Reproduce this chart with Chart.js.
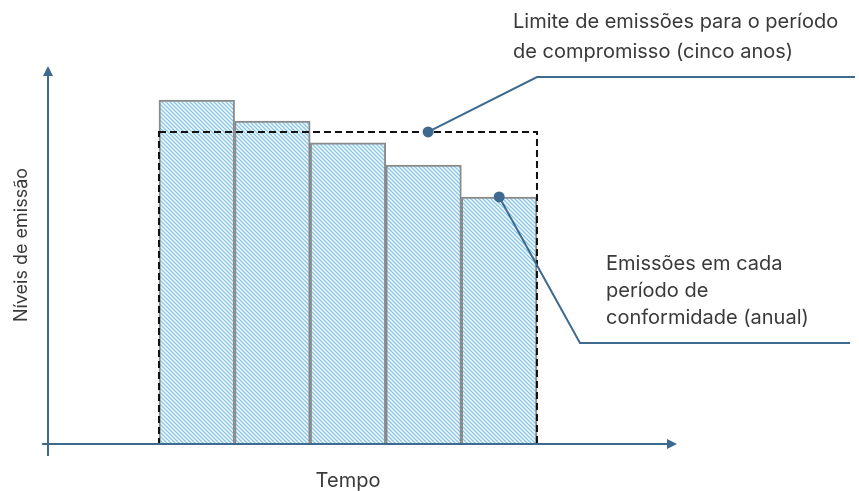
<!DOCTYPE html>
<html>
<head>
<meta charset="utf-8">
<script src="https://cdn.jsdelivr.net/npm/chart.js@4"></script>
<style>
  html, body { margin: 0; padding: 0; background: #fff; }
  #wrap { width: 859px; height: 491px; }
</style>
</head>
<body>
<div id="wrap"><canvas id="emissionsChart" width="859" height="491"></canvas></div>
<script>
// Data (relative emission levels, 0-100)
const periods = [1, 2, 3, 4, 5];
const annualEmissions = [91.5, 85.9, 80.1, 74.2, 65.7];
const commitmentLimit = 83.0;
const limitLabel = ["Limite de emissões para o período", "de compromisso (cinco anos)"];
const annualLabel = ["Emissões em cada", "período de", "conformidade (anual)"];
const xTitle = "Tempo";
const yTitle = "Níveis de emissão";

const axisColor = "#3d6a8e";
const textColor = "#3a3a3a";
const fontFamily = "Inter, 'Open Sans', sans-serif";

// Hatch fill for the bars
function makeHatch() {
    const c = document.createElement("canvas");
    c.width = 4; c.height = 4;
    const g = c.getContext("2d");
    g.fillStyle = "#ffffff";
    g.fillRect(0, 0, 4, 4);
    g.strokeStyle = "#7fc6e8";
    g.lineWidth = 1.3;
    g.beginPath();
    g.moveTo(-1, -1); g.lineTo(5, 5);
    g.moveTo(-1, 3); g.lineTo(1, 5);
    g.moveTo(3, -1); g.lineTo(5, 1);
    g.stroke();
    return g.createPattern(c, "repeat");
}

function arrowHead(ctx, x, y, dir) {
    ctx.beginPath();
    if (dir === "up") {
        ctx.moveTo(x, y); ctx.lineTo(x - 5, y + 10); ctx.lineTo(x + 5, y + 10);
    } else {
        ctx.moveTo(x, y); ctx.lineTo(x - 10, y - 5); ctx.lineTo(x - 10, y + 5);
    }
    ctx.closePath();
    ctx.fill();
}

const overlay = {
    id: "overlay",
    afterDatasetsDraw(chart) {
        const ctx = chart.ctx;
        const xs = chart.scales.x, ys = chart.scales.y;
        const area = chart.chartArea;
        const y0 = ys.getPixelForValue(0);
        ctx.save();

        // dashed commitment-period box
        const bx0 = xs.getPixelForValue(periods[0] - 0.5);
        const bx1 = xs.getPixelForValue(periods[periods.length - 1] + 0.5);
        const by = ys.getPixelForValue(commitmentLimit);
        ctx.strokeStyle = "#111";
        ctx.lineWidth = 2;
        ctx.setLineDash([7, 4]);
        ctx.strokeRect(bx0, by, bx1 - bx0, y0 - by);
        ctx.setLineDash([]);

        // axes with arrows
        ctx.strokeStyle = axisColor;
        ctx.fillStyle = axisColor;
        ctx.lineWidth = 2;
        ctx.beginPath();
        ctx.moveTo(area.left, y0 + 12); ctx.lineTo(area.left, area.top + 6);
        ctx.moveTo(area.left - 6, y0); ctx.lineTo(area.right - 6, y0);
        ctx.stroke();
        arrowHead(ctx, area.left, area.top - 2, "up");
        arrowHead(ctx, area.right + 1, y0, "right");

        // leader lines
        const d1x = xs.getPixelForValue(4.06), d1y = by;
        const d2x = xs.getPixelForValue(periods[4]), d2y = ys.getPixelForValue(annualEmissions[4]);
        ctx.lineWidth = 2;
        ctx.beginPath();
        ctx.moveTo(d1x, d1y); ctx.lineTo(537, 77); ctx.lineTo(855, 77);
        ctx.moveTo(d2x, d2y); ctx.lineTo(580, 343); ctx.lineTo(850, 343);
        ctx.stroke();
        ctx.beginPath(); ctx.arc(d1x, d1y, 5.5, 0, Math.PI * 2); ctx.fill();
        ctx.beginPath(); ctx.arc(d2x, d2y, 5.5, 0, Math.PI * 2); ctx.fill();

        // texts
        ctx.fillStyle = textColor;
        ctx.font = "20px " + fontFamily;
        ctx.textBaseline = "middle";
        ctx.textAlign = "left";
        limitLabel.forEach((t, i) => ctx.fillText(t, 513, 22 + i * 30));
        annualLabel.forEach((t, i) => ctx.fillText(t, 606, 264 + i * 27));
        ctx.textAlign = "center";
        ctx.fillText(xTitle, 348, 481);
        ctx.font = "18px " + fontFamily;
        ctx.translate(22, 245);
        ctx.rotate(-Math.PI / 2);
        ctx.fillText(yTitle, 0, 0);
        ctx.restore();
    }
};

const ctx = document.getElementById("emissionsChart").getContext("2d");
new Chart(ctx, {
    type: "bar",
    data: {
        datasets: [{
            data: periods.map((p, i) => ({ x: p, y: annualEmissions[i] })),
            backgroundColor: makeHatch(),
            borderColor: "#8a8a8a",
            borderWidth: 2,
            borderSkipped: "bottom",
            barPercentage: 1,
            categoryPercentage: 1
        }]
    },
    options: {
        responsive: false,
        animation: false,
        layout: { padding: { left: 48, right: 183, top: 68, bottom: 47 } },
        scales: {
            x: { type: "linear", offset: false, min: -0.968, max: 7.339, ticks: { count: 2 }, display: false },
            y: { min: 0, max: 100, display: false }
        },
        plugins: { legend: { display: false }, tooltip: { enabled: false } }
    },
    plugins: [overlay]
});
</script>
</body>
</html>
